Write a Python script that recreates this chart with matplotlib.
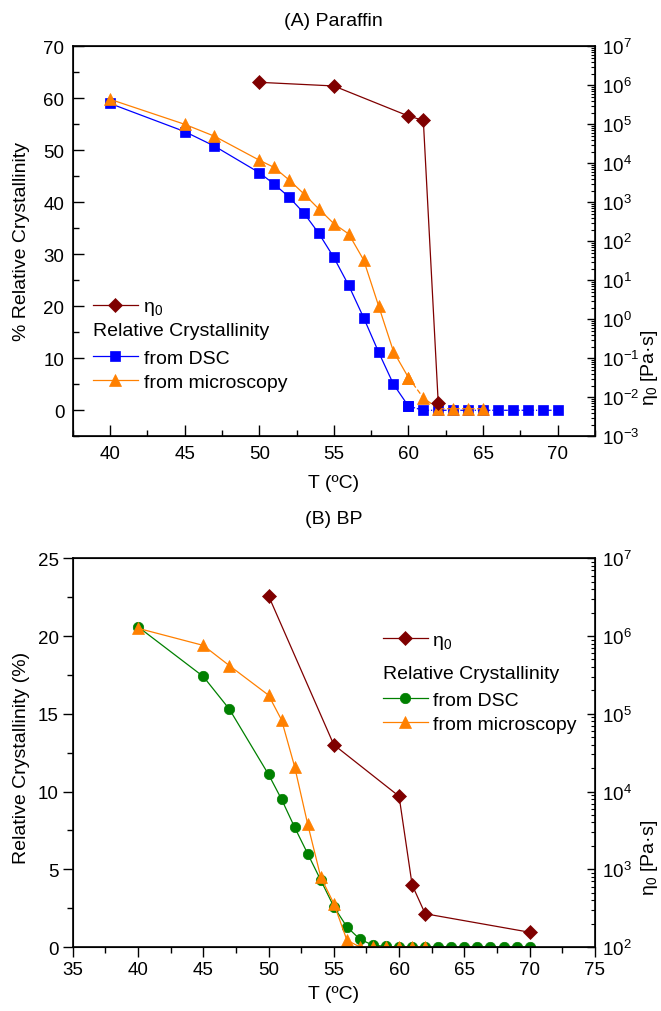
import matplotlib
matplotlib.use("Agg")
import matplotlib.pyplot as plt
from matplotlib.ticker import MultipleLocator, LogLocator, LogFormatterMathtext, NullFormatter

plt.rcParams['font.family'] = ['Liberation Sans', 'DejaVu Sans']
plt.rcParams['mathtext.fontset'] = 'custom'
plt.rcParams['mathtext.rm'] = 'Liberation Sans'
plt.rcParams['mathtext.it'] = 'Liberation Sans:italic'
plt.rcParams['mathtext.bf'] = 'Liberation Sans:bold'

# (A) Paraffin
t_dsc_a = [40, 45, 47, 50, 51, 52, 53, 54, 55, 56, 57, 58, 59, 60,
           61, 62, 63, 64, 65, 66, 67, 68, 69, 70]
cr_dsc_a = [59.0, 53.6, 50.8, 45.7, 43.5, 41.0, 37.9, 34.0, 29.4, 24.0, 17.8, 11.2, 5.0, 0.8,
            0, 0, 0, 0, 0, 0, 0, 0, 0, 0]
t_mic_a = [40, 45, 47, 50, 51, 52, 53, 54, 55, 56, 57, 58, 59, 60, 61, 62, 63, 64, 65]
cr_mic_a = [59.8, 55.0, 52.7, 48.1, 46.7, 44.3, 41.6, 38.7, 35.9, 33.9, 28.9, 20.1, 11.3, 6.3,
            2.4, 0.3, 0.3, 0.3, 0.3]
t_eta_a = [50, 55, 60, 61, 62]
eta_a = [1.19e6, 9.6e5, 1.63e5, 1.26e5, 7.1e-3]

# (B) BP
t_dsc_b = [40, 45, 47, 50, 51, 52, 53, 54, 55, 56, 57, 58, 59, 60,
           61, 62, 63, 64, 65, 66, 67, 68, 69, 70]
cr_dsc_b = [20.6, 17.4, 15.3, 11.1, 9.5, 7.7, 6.0, 4.3, 2.6, 1.3, 0.5, 0.12, 0.04, 0,
            0, 0, 0, 0, 0, 0, 0, 0, 0, 0]
t_mic_b = [40, 45, 47, 50, 51, 52, 53, 54, 55, 56, 57, 58, 59, 60, 61, 62]
cr_mic_b = [20.5, 19.4, 18.1, 16.2, 14.6, 11.6, 7.9, 4.5, 2.8, 0.45, 0, 0, 0, 0, 0, 0]
t_eta_b = [50, 55, 60, 61, 62, 70]
eta_b = [3.3e6, 4.0e4, 8.7e3, 630, 268, 155]

BLUE = '#0000ff'
ORANGE = '#ff8000'
DRED = '#7f0000'
GREEN = '#008000'
FS = 14
TFS = 13.5

fig = plt.figure(figsize=(6.61, 10.12), dpi=100)


def log_axis(ax2, lo, hi):
    ax2.set_yscale('log')
    ax2.set_ylim(lo, hi)
    ax2.yaxis.set_major_locator(LogLocator(base=10, numticks=30))
    ax2.yaxis.set_minor_locator(LogLocator(base=10, subs=range(2, 10), numticks=30))
    ax2.yaxis.set_major_formatter(LogFormatterMathtext())
    ax2.yaxis.set_minor_formatter(NullFormatter())
    ax2.tick_params(axis='y', which='major', direction='in', length=6, width=1, labelsize=TFS, pad=5)
    ax2.tick_params(axis='y', which='minor', direction='in', length=3, width=0.8)


def legends(ax2, h_eta, h_dsc, h_mic, x, y1, y2):
    l1 = ax2.legend([h_eta], ['η$_0$'], loc='upper left', bbox_to_anchor=(x, y1),
                    frameon=False, fontsize=FS, handlelength=2.3, handletextpad=0.25,
                    borderpad=0, borderaxespad=0)
    ax2.add_artist(l1)
    leg = ax2.legend([h_dsc, h_mic], ['from DSC', 'from microscopy'], title='Relative Crystallinity',
                     title_fontsize=FS, alignment='left', loc='upper left', bbox_to_anchor=(x, y2),
                     frameon=False, fontsize=FS, handlelength=2.3, handletextpad=0.3,
                     borderpad=0, borderaxespad=0, labelspacing=0.32)
    leg._legend_box.sep = 7


# ---------- (A) Paraffin ----------
ax = fig.add_axes([0.110, 0.5679, 0.790, 0.3854])
for s in ax.spines.values():
    s.set_linewidth(1.2)
i60 = t_dsc_a.index(60)
h_dsc, = ax.plot(t_dsc_a[:i60 + 1], cr_dsc_a[:i60 + 1], '-s', color=BLUE, lw=0.9, ms=7,
                 mec=BLUE, mew=0.5)
ax.plot(t_dsc_a[i60:], cr_dsc_a[i60:], marker='s', ls=(0, (3, 1.5, 1, 1.5)), color=BLUE,
        lw=0.9, ms=7, mec=BLUE, mew=0.5)
j60 = t_mic_a.index(60)
h_mic, = ax.plot(t_mic_a[:j60 + 1], cr_mic_a[:j60 + 1], '-^', color=ORANGE, lw=0.9, ms=8.5,
                 mec=ORANGE, mew=0.5)
ax.plot(t_mic_a[j60:], cr_mic_a[j60:], marker='^', ls=(0, (4, 2)), color=ORANGE, lw=0.9,
        ms=8.5, mec=ORANGE, mew=0.5)
ax.set_xlim(37.5, 72.5)
ax.set_ylim(-5, 70)
ax.xaxis.set_major_locator(MultipleLocator(5))
ax.xaxis.set_minor_locator(MultipleLocator(2.5))
ax.yaxis.set_major_locator(MultipleLocator(10))
ax.yaxis.set_minor_locator(MultipleLocator(5))
ax.tick_params(which='major', direction='in', length=8, width=1, labelsize=TFS, pad=6)
ax.tick_params(which='minor', direction='in', length=4, width=1)

ax2 = ax.twinx()
h_eta, = ax2.plot(t_eta_a, eta_a, '-D', color=DRED, lw=0.9, ms=7, mec=DRED, mew=0.5)
log_axis(ax2, 1e-3, 1e7)
legends(ax2, h_eta, h_dsc, h_mic, 0.039, 0.355, 0.292)

# ---------- (B) BP ----------
bx = fig.add_axes([0.110, 0.0632, 0.790, 0.3841])
for s in bx.spines.values():
    s.set_linewidth(1.2)
g_dsc, = bx.plot(t_dsc_b, cr_dsc_b, '-o', color=GREEN, lw=0.9, ms=7.5, mec=GREEN, mew=0.5)
g_mic, = bx.plot(t_mic_b, cr_mic_b, '-^', color=ORANGE, lw=0.9, ms=8.5, mec=ORANGE, mew=0.5)
bx.set_xlim(35, 75)
bx.set_ylim(0, 25)
bx.xaxis.set_major_locator(MultipleLocator(5))
bx.xaxis.set_minor_locator(MultipleLocator(2.5))
bx.yaxis.set_major_locator(MultipleLocator(5))
bx.yaxis.set_minor_locator(MultipleLocator(2.5))
bx.tick_params(which='major', direction='out', length=7, width=1, labelsize=TFS, pad=3)
bx.tick_params(which='minor', direction='out', length=4, width=1)

bx2 = bx.twinx()
g_eta, = bx2.plot(t_eta_b, eta_b, '-D', color=DRED, lw=0.9, ms=7, mec=DRED, mew=0.5)
log_axis(bx2, 1e2, 1e7)
legends(bx2, g_eta, g_dsc, g_mic, 0.594, 0.812, 0.726)

# titles and axis labels
fig.text(0.505, 1 - 21 / 1012, '(A) Paraffin', ha='center', va='center', fontsize=FS)
fig.text(0.505, 1 - 519 / 1012, '(B) BP', ha='center', va='center', fontsize=FS)
fig.text(0.505, 1 - 484 / 1012, 'T (ºC)', ha='center', va='center', fontsize=FS)
fig.text(0.505, 1 - 995 / 1012, 'T (ºC)', ha='center', va='center', fontsize=FS)
fig.text(22 / 661, 1 - 242 / 1012, '% Relative Crystallinity', rotation=90,
         ha='center', va='center', fontsize=FS)
fig.text(22 / 661, 1 - 758 / 1012, 'Relative Crystallinity (%)', rotation=90,
         ha='center', va='center', fontsize=FS)
fig.text(650 / 661, 1 - 368 / 1012, 'η$_0$ [Pa·s]', rotation=90,
         ha='center', va='center', fontsize=FS)
fig.text(650 / 661, 1 - 858 / 1012, 'η$_0$ [Pa·s]', rotation=90,
         ha='center', va='center', fontsize=FS)

fig.savefig('out.png', dpi=100)
